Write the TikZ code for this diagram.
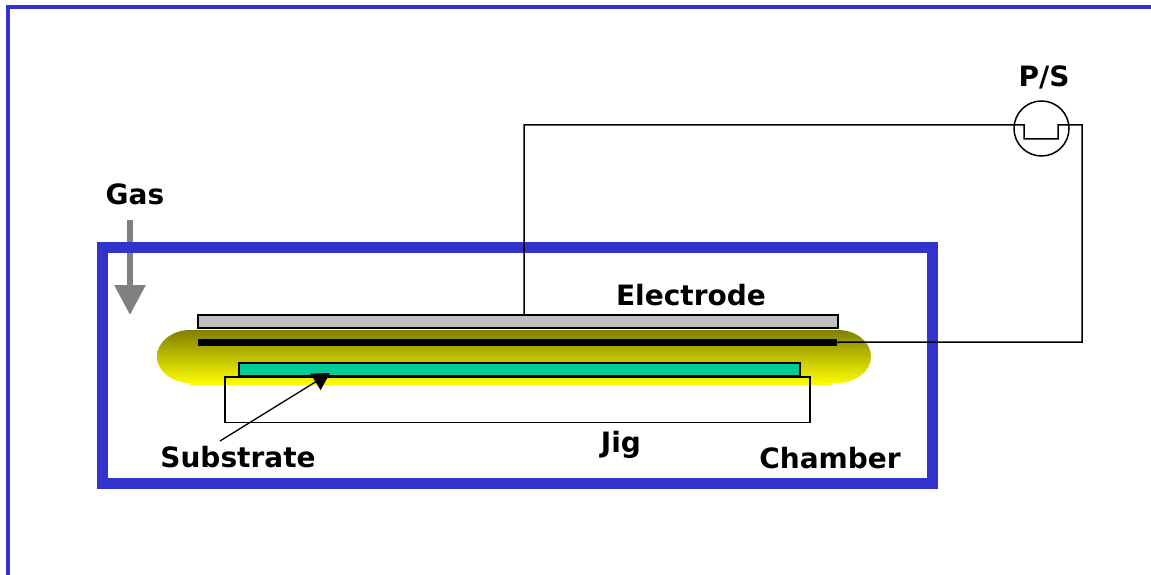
\documentclass[tikz,border=0pt]{standalone}
\usepackage{fontspec}
\setmainfont{DejaVu Sans}
\usetikzlibrary{arrows.meta,calc}
\definecolor{frameblue}{RGB}{51,51,204}
\definecolor{gasgray}{RGB}{128,128,128}
\definecolor{elecgray}{RGB}{192,192,192}
\definecolor{subgreen}{RGB}{0,204,153}
\definecolor{plasmatop}{RGB}{128,128,0}
\definecolor{plasmabot}{RGB}{255,255,0}
\tikzset{
  every node/.style={outer sep=0pt},
  wire/.style={draw=black,line width=1.5pt},
  label/.style={font=\bfseries\fontsize{28}{30}\selectfont,text=black,inner sep=0pt,anchor=center},
  platebox/.style={draw=black,line width=2pt,inner sep=0pt,anchor=north west},
}
\begin{document}
\begin{tikzpicture}[x=1pt,y=-1pt]
\useasboundingbox (0,0) rectangle (1151,575);
\fill[white] (0,0) rectangle (1151,575);
% slide frame
\draw[frameblue,line width=3.5pt] (8,580) -- (8,7) -- (1156,7);
% plasma
\shade[top color=plasmatop,bottom color=plasmabot]
  (190,330) -- (838,330) .. controls (856,330) and (871,342) .. (871,356.5)
  .. controls (871,371) and (856,383) .. (838,383) -- (831,383) -- (831,385) -- (190,385) -- (190,383)
  .. controls (172,383) and (157,371) .. (157,356.5)
  .. controls (157,342) and (172,330) .. (190,330) -- cycle;
% gas arrow
\coordinate (gasA) at (130,220);
\coordinate (gasB) at (130,315);
\draw[gasgray,line width=6pt,-{Triangle[length=30pt,width=30pt]}] (gasA) -- (gasB);
% chamber
\node[draw=frameblue,line width=11pt,minimum width=830pt,minimum height=236.5pt,inner sep=0pt,anchor=north west] (chamber) at (102.5,247) {};
% electrode, plates
\node[platebox,fill=elecgray,minimum width=640pt,minimum height=13pt] (electrode) at (198,315) {};
\node[fill=black,minimum width=639pt,minimum height=6.5pt,inner sep=0pt,anchor=north west] (lower) at (198,339) {};
\node[draw=black,line width=1.4pt,minimum width=585pt,minimum height=45.5pt,inner sep=0pt,anchor=north west] (jig) at (225,377) {};
\node[platebox,fill=subgreen,minimum width=561pt,minimum height=13pt] (substrate) at (238.5,362.5) {};
% power supply
\node[draw=black,line width=1.5pt,circle,minimum size=55pt,inner sep=0pt] (ps) at (1041.5,128.5) {};
\coordinate (wireStart) at (524,315);
\draw[wire] (wireStart) -- (524,125) -- (1024,125) -- (1024,139) -- (1058,139) -- (1058,125) -- (1082,125) -- (1082,342) -- (lower.east);
% labels
\node[label] (lps) at (1044,77) {P/S};
\node[label] (lgas) at (135,194) {Gas};
\node[label] (lelec) at (691,295) {Electrode};
\node[label] (lsub) at (238,457) {Substrate};
\node[label] (ljig) at (621,445) {Jig};
\node[label] (lchamber) at (830,458) {Chamber};
% pointer
\coordinate (subTail) at (220,441);
\coordinate (subTip) at (330,373);
\draw[black,line width=1.3pt,-{Triangle[length=17pt,width=19pt]}] (subTail) -- (subTip);
\end{tikzpicture}
\end{document}
